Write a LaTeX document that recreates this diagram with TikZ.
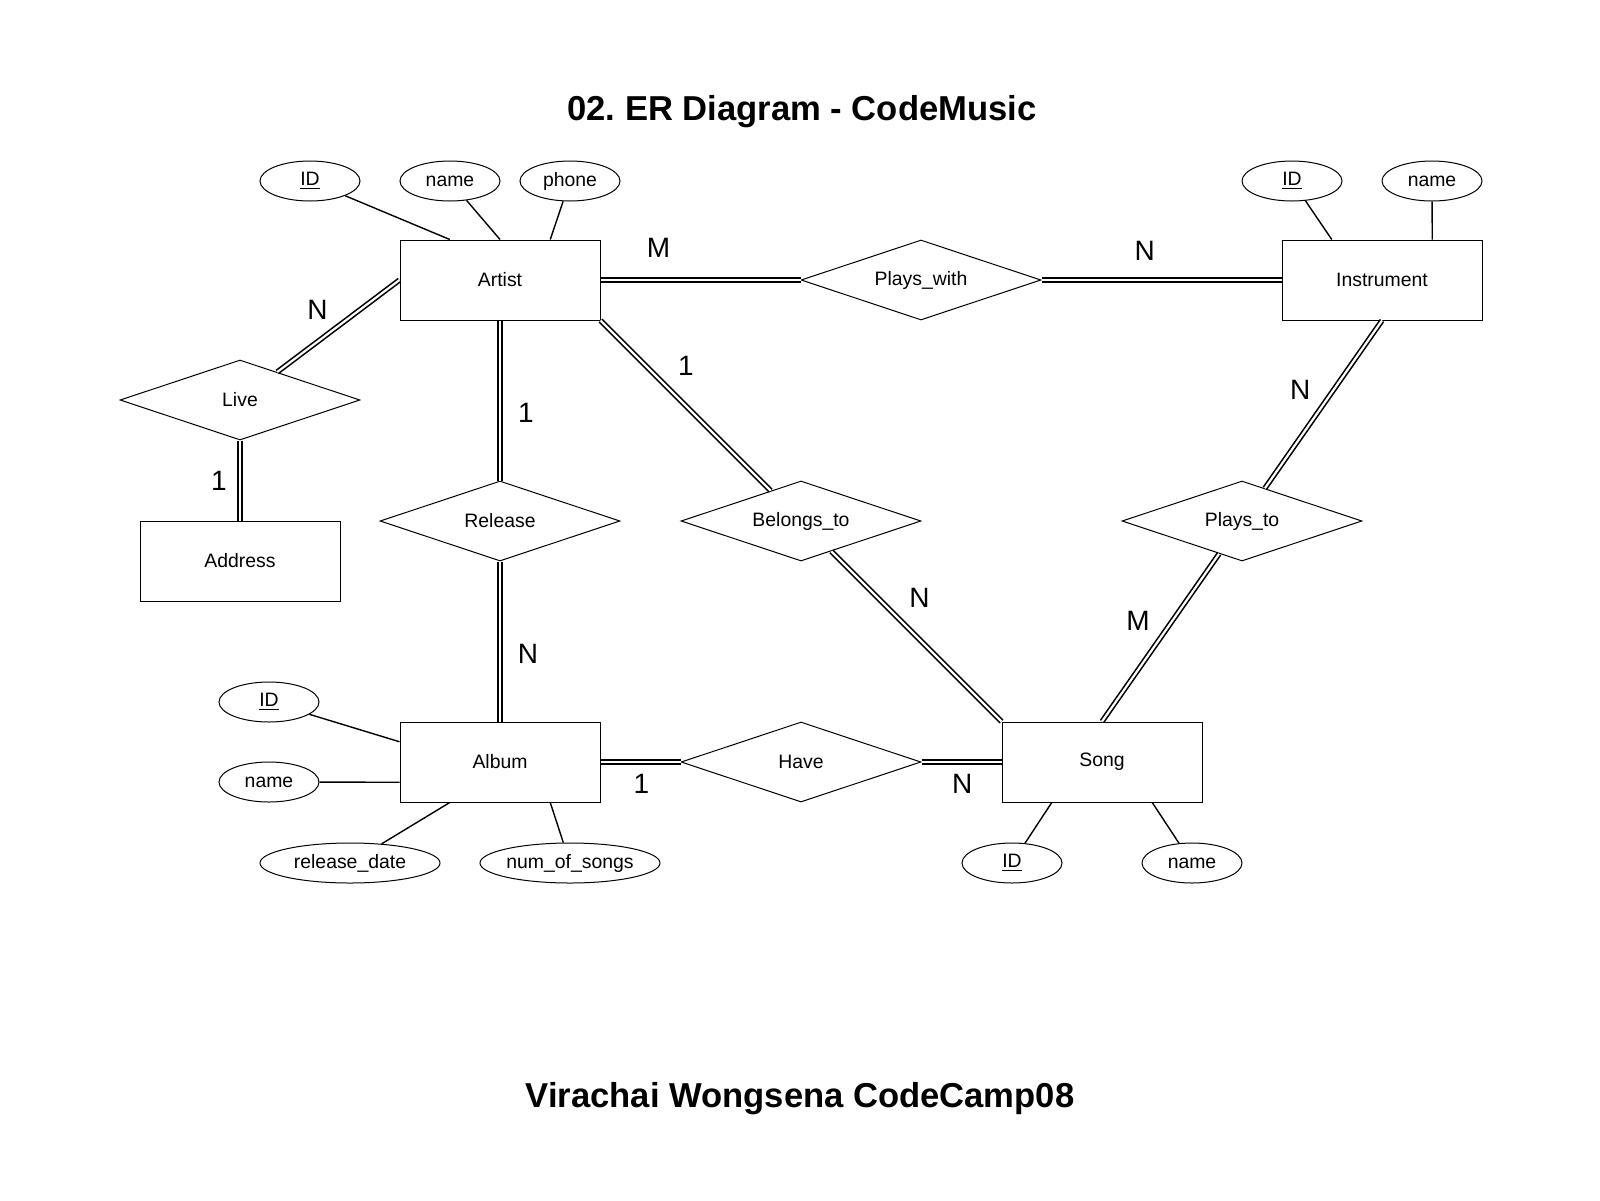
\documentclass[tikz,border=0pt]{standalone}
\usepackage{fontspec}
\setmainfont{Liberation Sans}
\usetikzlibrary{positioning, calc, shapes.geometric}
\frenchspacing

\begin{document}
\begin{tikzpicture}[
  x=0.5pt, y=-0.5pt,
  font=\fontsize{9.7}{11.6}\selectfont,
  entity/.style={draw, line width=0.5pt, minimum width=100pt, minimum height=40pt, inner sep=0pt},
  rel/.style={draw, diamond, aspect=3, line width=0.5pt, minimum width=120pt, minimum height=40pt,
              inner sep=0pt},
  attr/.style={draw, ellipse, line width=0.5pt, minimum width=50pt, minimum height=20pt,
               inner sep=0pt},
  wattr/.style={attr, minimum width=90pt},
  al/.style={draw, line width=0.7pt},
  tl/.style={draw, double, line width=0.8pt, double distance=1.1pt},
  card/.style={font=\fontsize{14}{16}\selectfont, inner sep=0pt},
  ttl/.style={font=\fontsize{17.3}{20}\selectfont\bfseries, anchor=base}
]
\useasboundingbox (0,0) rectangle (1600,1200);

\node[ttl] (title) at (802,120) {02. ER Diagram - CodeMusic};
\node[ttl] (credit) at (800,1107) {Virachai Wongsena CodeCamp08};

\node[entity] (artist) at (500,280) {Artist};
\node[rel, right=100pt of artist] (plays) {Plays\_with};
\node[entity, right=120pt of plays] (instr) {Instrument};
\node[rel] (live) at (240,400) {Live};
\node[entity, below=40pt of live] (addr) {Address};
\node[rel, below=80pt of artist] (release) {Release};
\node[rel, right=30pt of release] (belongs) {Belongs\_to};
\node[rel, right=100pt of belongs] (playsto) {Plays\_to};
\node[entity, below=80pt of release] (album) {Album};
\node[rel, right=40pt of album] (have) {Have};
\node[entity, right=40pt of have] (song) {Song};

\node[attr, above=19pt of artist, xshift=-95pt] (artid) {\underline{ID}};
\node[attr, above=19pt of artist, xshift=-25pt] (artname) {name};
\node[attr, above=19pt of artist, xshift=35pt] (artphone) {phone};
\node[attr, above=19pt of instr, xshift=-45pt] (insid) {\underline{ID}};
\node[attr, above=19pt of instr, xshift=25pt] (insname) {name};
\node[attr, left=40pt of album, yshift=30pt] (albid) {\underline{ID}};
\node[attr, left=40pt of album, yshift=-10pt] (albname) {name};
\node[wattr, below=20pt of album, xshift=-75pt] (albdate) {release\_date};
\node[wattr, below=20pt of album, xshift=35pt] (albnum) {num\_of\_songs};
\node[attr, below=20pt of song, xshift=-45pt] (songid) {\underline{ID}};
\node[attr, below=20pt of song, xshift=45pt] (songname) {name};

\draw[al] (artid) -- ($(artist.north west)!.25!(artist.north east)$);
\draw[al] (artname) -- (artist.north);
\draw[al] (artphone) -- ($(artist.north west)!.75!(artist.north east)$);
\draw[al] (insid) -- ($(instr.north west)!.25!(instr.north east)$);
\draw[al] (insname) -- ($(instr.north west)!.75!(instr.north east)$);
\draw[al] (albid) -- ($(album.north west)!.25!(album.south west)$);
\draw[al] (albname) -- ($(album.north west)!.75!(album.south west)$);
\draw[al] (albdate) -- ($(album.south west)!.25!(album.south east)$);
\draw[al] (albnum) -- ($(album.south west)!.75!(album.south east)$);
\draw[al] (songid) -- ($(song.south west)!.25!(song.south east)$);
\draw[al] (songname) -- ($(song.south west)!.75!(song.south east)$);

\draw[tl] (artist) -- node[card, pos=.29, yshift=16pt] (cpa) {M} (plays);
\draw[tl] (plays) -- node[card, pos=.43, yshift=14.5pt] (cpi) {N} (instr);
\draw[tl] (artist.west) -- node[card, pos=.54, xshift=-8pt, yshift=10pt] (cla) {N} (live);
\draw[tl] (live) -- node[card, pos=.5, xshift=-10.5pt] (cld) {1} (addr);
\draw[tl] (artist) -- node[card, pos=.58, xshift=13pt] (cra) {1} (release);
\draw[tl] (release) -- node[card, pos=.58, xshift=14pt] (crb) {N} (album);
\draw[tl] (artist.south east) -- node[card, pos=.385, xshift=10pt, yshift=10pt] (cba) {1} (belongs);
\draw[tl] (belongs) -- node[card, pos=.394, xshift=10.5pt, yshift=10.5pt] (cbs) {N} (song.north west);
\draw[tl] (instr.south) -- node[card, pos=.51, xshift=-11pt, yshift=8pt] (cti) {N} (playsto);
\draw[tl] (playsto) -- node[card, pos=.495, xshift=-11.5pt, yshift=8pt] (cts) {M} (song.north);
\draw[tl] (album) -- node[card, pos=.51, yshift=-11pt] (cha) {1} (have);
\draw[tl] (have) -- node[card, pos=.51, yshift=-11pt] (chs) {N} (song);
\end{tikzpicture}
\end{document}
